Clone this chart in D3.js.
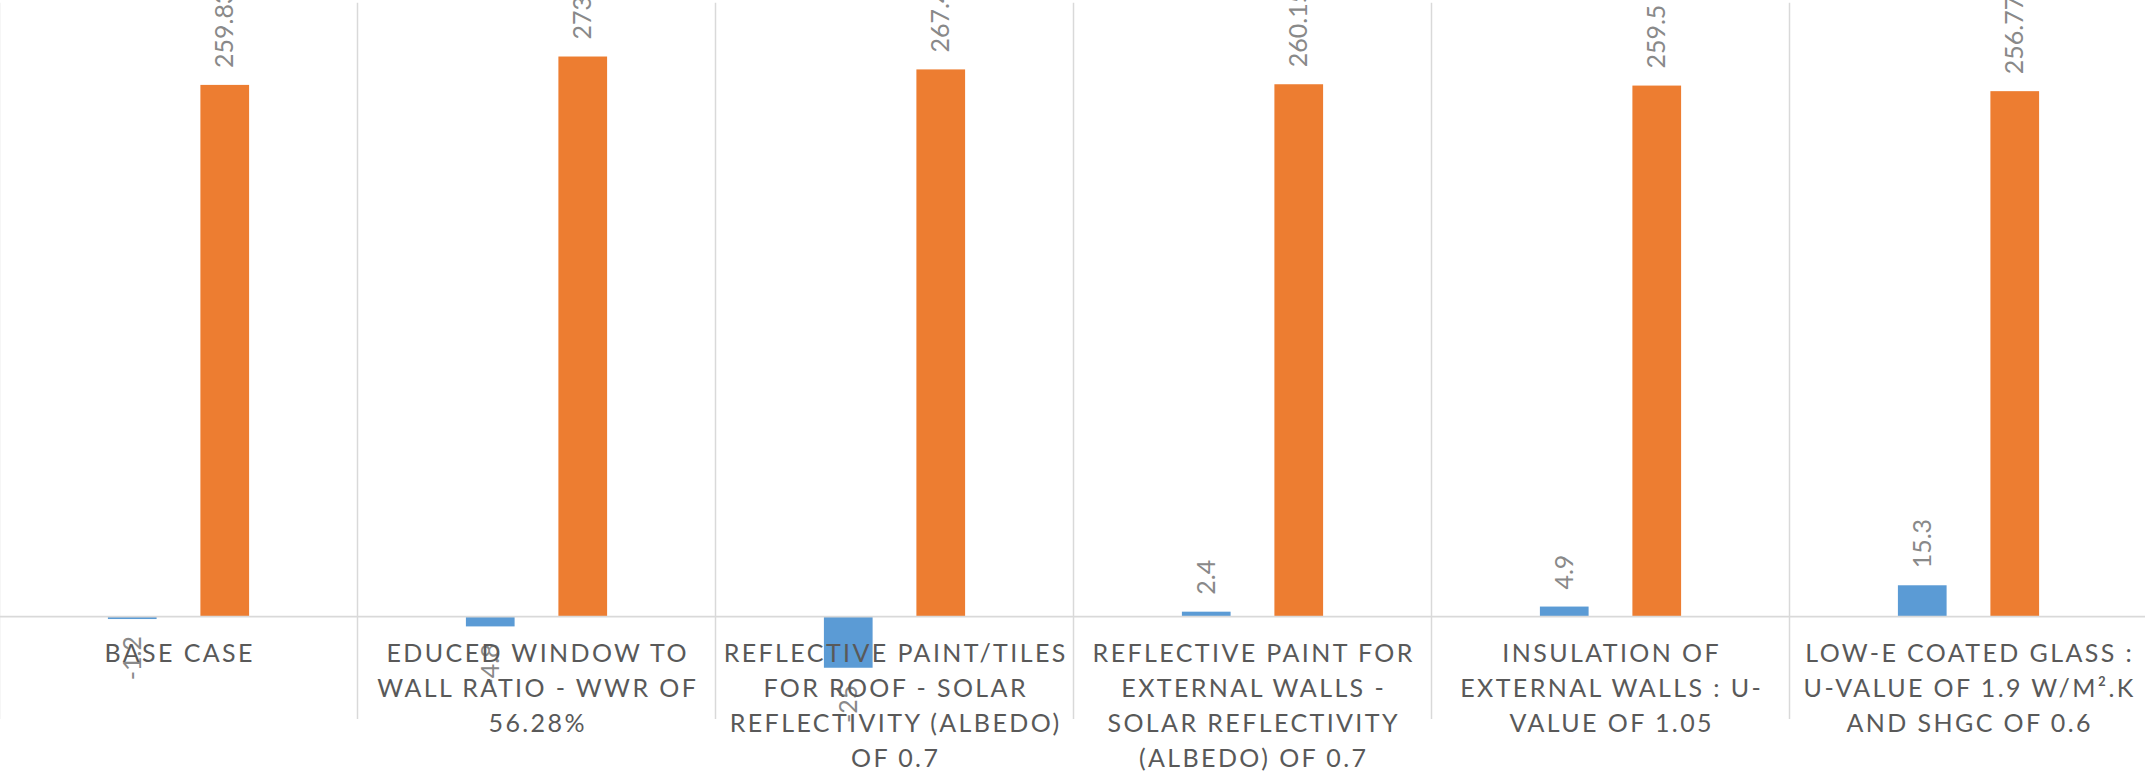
<!DOCTYPE html>
<html>
<head>
<meta charset="utf-8">
<script src="https://cdn.jsdelivr.net/npm/d3@7"></script>
<style>
  body { margin: 0; background: #fff; overflow: hidden; }
</style>
</head>
<body>
<script>
// category labels, already broken into lines as they show on the chart
const categoryLines = [
  ["BASE CASE"],
  ["EDUCED WINDOW TO", "WALL RATIO - WWR OF", "56.28%"],
  ["REFLECTIVE PAINT/TILES", "FOR ROOF - SOLAR", "REFLECTIVITY (ALBEDO)", "OF 0.7"],
  ["REFLECTIVE PAINT FOR", "EXTERNAL WALLS -", "SOLAR REFLECTIVITY", "(ALBEDO) OF 0.7"],
  ["INSULATION OF", "EXTERNAL WALLS : U-", "VALUE OF 1.05"],
  ["LOW-E COATED GLASS :", "U-VALUE OF 1.9 W/M².K", "AND SHGC OF 0.6"]
]
const seriesNames = ["change", "total"]
const changeValues = [-1.2, -4.8, -25, 2.4, 4.9, 15.3]
const totalValues = [259.83, 273.7, 267.4, 260.15, 259.5, 256.77]
const yDomain = [-50, 300]

const width = 2145
const height = 772
const colors = ["#5b9bd5", "#ed7d31"]

let categories = categoryLines.map((d) => d.join(" "))
let rows = categories.map((c, i) => ({
  category: c,
  lines: categoryLines[i],
  values: [changeValues[i], totalValues[i]]
}))

let svg = d3.select("body")
  .append("svg")
  .attr("width", width)
  .attr("height", height)
  .style("font-family", "Lato, 'Open Sans', sans-serif")

let x = d3.scaleBand()
  .domain(categories)
  .range([-0.5, 2147.5])
  .paddingInner(0)

// the two bars sit in the middle 39% of each category
let groupW = x.bandwidth() * 0.3944
let x1 = d3.scaleBand()
  .domain(seriesNames)
  .range([(x.bandwidth() - groupW) / 2, (x.bandwidth() + groupW) / 2])
  .paddingInner(0.4735)

let y = d3.scaleLinear()
  .domain(yDomain)
  .range([718.9, 2.7])

// vertical gridlines between categories
svg.append("g")
  .selectAll("line")
  .data(categories)
  .enter()
  .append("line")
    .attr("x1", (d) => x(d))
    .attr("x2", (d) => x(d))
    .attr("y1", y(yDomain[1]))
    .attr("y2", y(yDomain[0]))
    .attr("stroke", "#d9d9d9")
    .attr("stroke-width", 1.5)

// bars
let groups = svg.append("g")
  .selectAll("g")
  .data(rows)
  .enter()
  .append("g")
    .attr("transform", (d) => `translate(${x(d.category)},0)`)

groups.selectAll("rect")
  .data((d) => d.values.map((v, i) => ({ key: seriesNames[i], value: v, i: i })))
  .enter()
  .append("rect")
    .attr("x", (d) => x1(d.key))
    .attr("width", x1.bandwidth())
    .attr("y", (d) => y(Math.max(0, d.value)))
    .attr("height", (d) => Math.abs(y(d.value) - y(0)))
    .attr("fill", (d) => colors[d.i])

// horizontal axis line at zero
svg.append("line")
  .attr("x1", 0)
  .attr("x2", width)
  .attr("y1", y(0))
  .attr("y2", y(0))
  .attr("stroke", "#d9d9d9")
  .attr("stroke-width", 1.8)

// category labels (drawn over the bars like in the original)
let catLabels = svg.append("g")
  .selectAll("text")
  .data(rows)
  .enter()
  .append("text")
    .attr("x", (d) => x(d.category) + x.bandwidth() / 2)
    .attr("y", 662.3)
    .attr("text-anchor", "middle")
    .attr("fill", "#595959")
    .style("font-size", "25px")
    .style("letter-spacing", "2.4px")

catLabels.selectAll("tspan")
  .data((d) => d.lines.map((l) => ({ l: l, cx: x(d.category) + x.bandwidth() / 2 })))
  .enter()
  .append("tspan")
    .attr("x", (d) => d.cx + 1.2)
    .attr("dy", (d, i) => i === 0 ? 0 : 34.8)
    .text((d) => d.l)

// rotated data labels
const gap = 17
groups.selectAll("text")
  .data((d) => d.values.map((v, i) => ({ key: seriesNames[i], value: v })))
  .enter()
  .append("text")
    .attr("transform", (d) => {
      let cx = x1(d.key) + x1.bandwidth() / 2
      let cy = d.value >= 0 ? y(d.value) - gap : y(d.value) + gap
      return `translate(${cx},${cy}) rotate(-90)`
    })
    .attr("text-anchor", (d) => d.value >= 0 ? "start" : "end")
    .attr("dy", "0.35em")
    .attr("fill", "#898989")
    .style("font-size", "25px")
    .text((d) => d.value)
</script>
</body>
</html>
